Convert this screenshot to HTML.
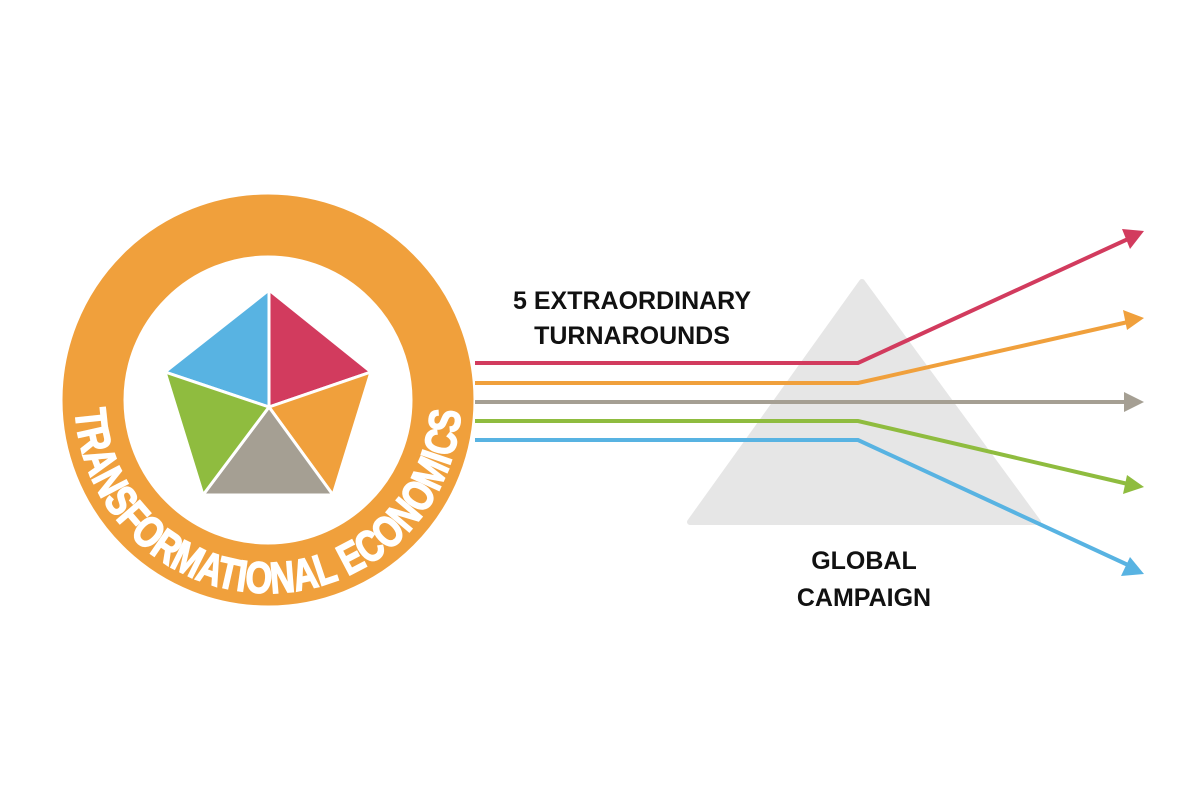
<!DOCTYPE html>
<html><head><style>html,body{margin:0;padding:0;background:#fff}svg{display:block}</style></head><body>
<svg width="1200" height="800" viewBox="0 0 1200 800" xmlns="http://www.w3.org/2000/svg">
<defs>
<path id="arc" d="M 75 400 A 193 193 0 0 0 461 400"/>
</defs>
<circle cx="268" cy="400" r="175" fill="none" stroke="#f0a03c" stroke-width="61"/>
<g stroke="#fff" stroke-width="3" stroke-linejoin="round">
<polygon points="269,407 269,290 165,372" fill="#58b3e2"/>
<polygon points="269,407 269,290 371,372" fill="#d23b5e"/>
<polygon points="269,407 371,372 333,495" fill="#f0a03c"/>
<polygon points="269,407 333,495 203,495" fill="#a59f93"/>
<polygon points="269,407 203,495 165,372" fill="#8fbc3f"/>
</g>
<text font-family="'Liberation Sans Narrow','Liberation Sans',sans-serif" font-weight="bold" font-size="44" fill="#fff" stroke="#fff" stroke-width="1.6">
<textPath href="#arc" startOffset="10" textLength="585" lengthAdjust="spacingAndGlyphs">TRANSFORMATIONAL ECONOMICS</textPath>
</text>
<polygon points="862,282 1038,522 690,522" fill="#e6e6e6" stroke="#e6e6e6" stroke-width="6" stroke-linejoin="round"/>
<g fill="none" stroke-width="4">
<polyline points="475,363 858,363 1128,239" stroke="#d23b5e"/>
<polyline points="475,383 858,383 1128,322" stroke="#f0a03c"/>
<polyline points="475,402 1128,402" stroke="#a59f93"/>
<polyline points="475,421 858,421 1128,484" stroke="#8fbc3f"/>
<polyline points="475,440 858,440 1128,565" stroke="#58b3e2"/>
</g>
<polygon points="1144,231 1122,229 1130,249" fill="#d23b5e"/>
<polygon points="1144,318 1123,310 1127,330" fill="#f0a03c"/>
<polygon points="1144,402 1124,392 1124,412" fill="#a59f93"/>
<polygon points="1144,487 1127,475 1123,494" fill="#8fbc3f"/>
<polygon points="1144,574 1130,557 1121,576" fill="#58b3e2"/>
<g font-family="'Liberation Sans',sans-serif" font-weight="bold" font-size="25" fill="#111" text-anchor="middle">
<text x="632" y="309">5 EXTRAORDINARY</text>
<text x="632" y="344">TURNAROUNDS</text>
<text x="864" y="569">GLOBAL</text>
<text x="864" y="606">CAMPAIGN</text>
</g>
</svg>
</body></html>
